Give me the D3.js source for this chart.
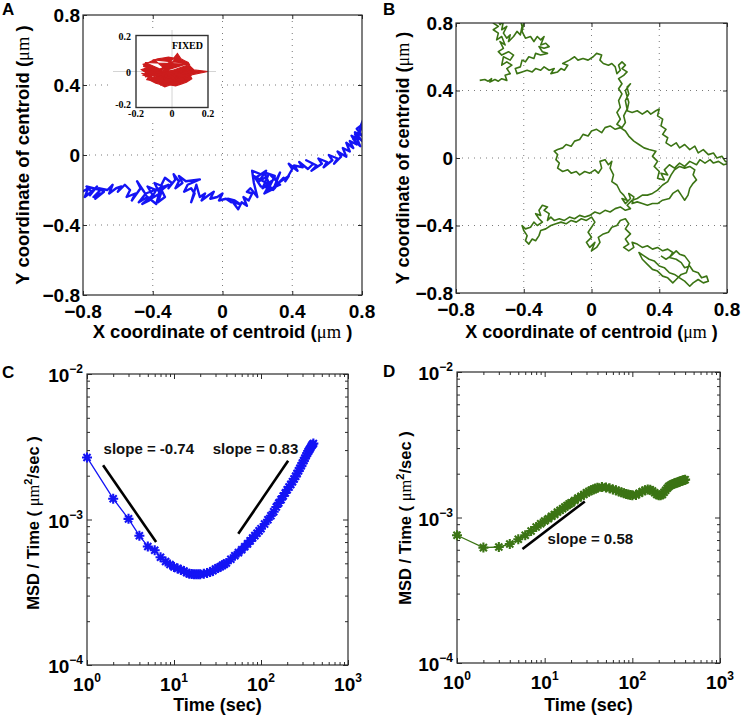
<!DOCTYPE html>
<html><head><meta charset="utf-8">
<script src="https://cdn.jsdelivr.net/npm/d3@7"></script>
<style>body{margin:0;background:#fff}svg{display:block}</style>
</head><body><script>
// ---------------- DATA ----------------
const coordTicks = [-0.8, -0.4, 0, 0.4, 0.8];
const insetTicks = [-0.2, 0, 0.2];
const logXTicks = [1, 10, 100, 1000];
const logXExp = ["0", "1", "2", "3"];
const logYTicks = [1e-4, 1e-3, 1e-2];
const logYExp = ["\u22124", "\u22123", "\u22122"];
const panelLetters = ["A", "B", "C", "D"];

// Panel A trajectory (x, y in µm)
const trajA = [
[-0.82,-0.22],[-0.77,-0.19],[-0.79,-0.24],[-0.74,-0.20],[-0.76,-0.23],[-0.72,-0.18],[-0.75,-0.21],[-0.78,-0.18],[-0.70,-0.20],[-0.74,-0.24],
[-0.70,-0.22],[-0.73,-0.25],[-0.68,-0.21],[-0.71,-0.19],
[-0.66,-0.20],[-0.63,-0.17],[-0.65,-0.22],[-0.61,-0.19],[-0.58,-0.18],[-0.60,-0.21],[-0.56,-0.17],[-0.53,-0.20],
[-0.55,-0.24],[-0.50,-0.22],[-0.52,-0.26],[-0.47,-0.19],[-0.49,-0.15],[-0.45,-0.21],[-0.42,-0.26],[-0.46,-0.28],[-0.40,-0.23],[-0.43,-0.18],
[-0.38,-0.20],[-0.41,-0.25],[-0.36,-0.22],[-0.39,-0.16],[-0.34,-0.18],[-0.37,-0.27],[-0.33,-0.24],[-0.35,-0.20],[-0.31,-0.17],
[-0.44,-0.22],[-0.48,-0.27],[-0.43,-0.24],[-0.38,-0.28],[-0.35,-0.17],
[-0.33,-0.13],[-0.29,-0.16],[-0.31,-0.19],[-0.27,-0.14],[-0.28,-0.11],[-0.25,-0.15],[-0.27,-0.19],[-0.23,-0.16],[-0.25,-0.12],[-0.21,-0.15],
[-0.13,-0.14],[-0.20,-0.17],[-0.22,-0.21],[-0.18,-0.19],
[-0.16,-0.22],[-0.18,-0.27],[-0.15,-0.17],[-0.13,-0.24],[-0.10,-0.22],[-0.12,-0.26],[-0.08,-0.23],[-0.05,-0.21],[-0.07,-0.25],[-0.03,-0.24],
[0.00,-0.22],[-0.02,-0.26],[0.02,-0.25],
[0.05,-0.27],[0.03,-0.25],[0.07,-0.26],[0.10,-0.28],[0.06,-0.27],[0.09,-0.31],[0.11,-0.27],[0.14,-0.29],[0.12,-0.24],[0.15,-0.26],[0.17,-0.22],[0.14,-0.21],[0.16,-0.19],
[0.20,-0.24],[0.18,-0.16],[0.17,-0.09],[0.22,-0.11],[0.19,-0.13],[0.25,-0.09],[0.21,-0.15],[0.26,-0.12],[0.23,-0.19],[0.28,-0.15],[0.24,-0.22],[0.30,-0.19],
[0.22,-0.18],[0.18,-0.12],[0.27,-0.17],[0.24,-0.10],[0.30,-0.12],[0.26,-0.20],[0.33,-0.17],
[0.27,-0.11],[0.31,-0.14],[0.33,-0.10],[0.29,-0.20],[0.35,-0.13],[0.32,-0.16],[0.38,-0.12],[0.36,-0.15],
[0.40,-0.08],[0.38,-0.05],[0.43,-0.09],[0.41,-0.06],[0.46,-0.07],[0.44,-0.04],[0.49,-0.08],[0.52,-0.05],[0.48,-0.03],[0.54,-0.06],[0.51,-0.09],
[0.57,-0.05],[0.55,-0.02],[0.60,-0.04],[0.58,-0.07],
[0.63,-0.03],[0.61,0.00],[0.66,-0.02],[0.64,-0.05],[0.68,-0.01],[0.66,0.02],[0.71,-0.01],[0.69,0.04],[0.73,0.02],[0.71,0.07],[0.75,0.04],
[0.73,0.08],[0.77,0.06],[0.74,0.11],[0.78,0.09],[0.75,0.09],[0.79,0.05],[0.76,0.12],[0.80,0.08],[0.76,0.13],[0.80,0.11],[0.77,0.15],[0.81,0.18],
[0.78,0.12],[0.81,0.21],[0.79,0.16],[0.82,0.14]
];

// Inset ("FIXED") trajectory
const trajFixed = [
[0.11,0.01],[0.20,0.00],[0.10,-0.02],[0.11,-0.04],[0.08,-0.06],[0.05,-0.07],[0.02,-0.08],[-0.01,-0.075],[-0.04,-0.085],[-0.07,-0.07],
[-0.09,-0.065],[-0.12,-0.05],[-0.14,-0.045],[-0.13,-0.03],[-0.16,-0.02],[-0.14,-0.01],[-0.17,0.01],[-0.14,0.02],[-0.16,0.04],[-0.13,0.05],
[-0.11,0.06],[-0.08,0.07],[-0.05,0.075],[-0.02,0.08],[0.01,0.075],[0.03,0.10],[0.05,0.07],[0.07,0.06],[0.09,0.05],[0.10,0.03],[0.12,0.01],
[-0.15,-0.03],[0.09,0.045],[-0.10,0.065],[0.06,-0.065],[-0.16,0.03],[0.11,-0.02],[-0.06,-0.075],[0.02,0.08],[-0.13,-0.04],[0.10,0.04],
[-0.15,0.05],[0.08,-0.05],[-0.17,-0.01]
];

// Panel B trajectory
const trajB = [
[-0.66,0.46],[-0.63,0.465],[-0.61,0.455],[-0.59,0.47],[-0.60,0.45],[-0.57,0.465],[-0.55,0.455],[-0.53,0.47],[-0.50,0.46],[-0.51,0.49],
[-0.48,0.50],[-0.50,0.53],[-0.47,0.55],[-0.50,0.57],[-0.53,0.55],[-0.52,0.60],[-0.48,0.58],[-0.46,0.61],[-0.49,0.63],[-0.53,0.61],
[-0.55,0.63],[-0.52,0.65],[-0.54,0.69],[-0.51,0.67],[-0.53,0.72],[-0.56,0.70],[-0.55,0.74],[-0.58,0.76],[-0.55,0.78],[-0.58,0.80],
[-0.56,0.83],[-0.54,0.79],[-0.52,0.81],[-0.53,0.76],[-0.50,0.78],[-0.52,0.74],[-0.50,0.71],[-0.48,0.73],[-0.49,0.69],[-0.46,0.72],
[-0.44,0.75],[-0.42,0.73],[-0.41,0.78],[-0.42,0.82],[-0.40,0.80],[-0.41,0.75],[-0.39,0.71],[-0.36,0.72],[-0.34,0.69],[-0.32,0.72],
[-0.30,0.70],[-0.28,0.72],[-0.30,0.67],[-0.27,0.68],[-0.25,0.66],[-0.28,0.65],[-0.31,0.66],[-0.29,0.63],[-0.26,0.62],[-0.30,0.61],
[-0.33,0.62],[-0.34,0.59],[-0.37,0.60],[-0.39,0.57],[-0.41,0.58],[-0.42,0.54],[-0.45,0.53],[-0.44,0.50],[-0.41,0.51],[-0.38,0.52],
[-0.35,0.51],[-0.33,0.53],[-0.30,0.52],[-0.28,0.54],[-0.25,0.52],[-0.22,0.53],[-0.24,0.50],[-0.20,0.51],[-0.18,0.53],[-0.16,0.52],
[-0.14,0.55],[-0.17,0.56],[-0.13,0.58],[-0.10,0.60],[-0.08,0.58],[-0.05,0.59],[-0.02,0.58],[0.01,0.60],[0.03,0.62],[0.06,0.61],
[0.05,0.58],[0.07,0.56],[0.10,0.55],[0.12,0.56],[0.14,0.54],[0.15,0.50],[0.17,0.52],[0.16,0.55],[0.18,0.57],[0.20,0.55],
[0.18,0.53],[0.21,0.51],[0.19,0.49],[0.16,0.47],[0.18,0.44],[0.16,0.41],[0.18,0.38],[0.16,0.34],[0.17,0.30],[0.15,0.27],
[0.17,0.23],[0.15,0.20],[0.18,0.18],[0.20,0.21],[0.19,0.25],[0.21,0.29],[0.20,0.34],[0.22,0.38],[0.21,0.42],[0.23,0.44],
[0.20,0.40],[0.22,0.33],[0.21,0.28],
[0.24,0.27],[0.27,0.28],[0.30,0.26],[0.33,0.28],[0.35,0.26],[0.38,0.28],[0.40,0.29],[0.39,0.25],[0.42,0.23],[0.41,0.19],
[0.44,0.17],[0.42,0.14],[0.45,0.12],[0.44,0.09],[0.47,0.07],[0.50,0.09],[0.52,0.06],[0.55,0.08],[0.58,0.05],[0.61,0.07],
[0.63,0.03],[0.66,0.05],[0.69,0.02],[0.72,0.03],[0.74,0.00],[0.77,0.01],[0.79,-0.02],[0.82,-0.03],[0.78,-0.04],[0.75,-0.02],
[0.72,-0.03],[0.70,-0.01],[0.67,-0.03],[0.64,-0.01],[0.62,-0.04],[0.58,-0.02],[0.55,-0.05],[0.52,-0.03],[0.49,-0.06],[0.46,-0.04],
[0.43,-0.07],[0.45,-0.10],[0.41,-0.09],[0.43,-0.13],[0.39,-0.12],[0.40,-0.08],[0.37,-0.05],[0.39,-0.02],[0.36,0.01],[0.38,0.04],
[0.34,0.05],[0.31,0.06],[0.28,0.08],[0.25,0.10],[0.22,0.13],[0.20,0.16],[0.17,0.18],
[0.14,0.17],[0.11,0.19],[0.08,0.18],[0.06,0.15],[0.03,0.17],[0.00,0.16],[-0.02,0.13],[-0.05,0.14],[-0.07,0.11],[-0.10,0.10],
[-0.12,0.07],[-0.15,0.08],[-0.17,0.06],[-0.20,0.05],[-0.22,0.04],[-0.20,0.02],[-0.21,-0.01],[-0.19,-0.03],[-0.20,-0.06],[-0.17,-0.08],
[-0.14,-0.07],[-0.12,-0.09],[-0.09,-0.08],[-0.07,-0.10],[-0.04,-0.08],[-0.01,-0.09],[0.02,-0.07],[0.04,-0.09],[0.06,-0.06],[0.05,-0.02],
[0.08,-0.01],[0.10,-0.04],[0.12,-0.02],[0.11,-0.06],[0.13,-0.10],[0.12,-0.14],[0.15,-0.16],[0.17,-0.20],[0.19,-0.22],[0.21,-0.25],
[0.18,-0.24],[0.20,-0.27],[0.23,-0.24],[0.22,-0.21],[0.25,-0.23],[0.24,-0.27],[0.27,-0.26],
[0.30,-0.27],[0.33,-0.28],[0.36,-0.27],[0.39,-0.27],[0.42,-0.25],[0.46,-0.24],[0.48,-0.21],[0.51,-0.19],[0.53,-0.22],[0.55,-0.25],
[0.57,-0.22],[0.58,-0.18],[0.60,-0.15],[0.62,-0.13],[0.60,-0.10],[0.61,-0.07],[0.58,-0.05],[0.55,-0.06],[0.52,-0.05],[0.49,-0.07],
[0.47,-0.10],[0.45,-0.14],[0.42,-0.16],[0.39,-0.19],[0.36,-0.21],[0.33,-0.22],[0.30,-0.22],[0.27,-0.24],[0.24,-0.25],[0.21,-0.28],
[0.23,-0.30],
[0.20,-0.31],[0.17,-0.29],[0.14,-0.30],[0.11,-0.32],[0.08,-0.31],[0.05,-0.33],[0.02,-0.32],[-0.01,-0.34],[-0.04,-0.35],[-0.07,-0.34],
[-0.10,-0.36],[-0.13,-0.35],[-0.16,-0.37],[-0.19,-0.36],[-0.22,-0.37],[-0.24,-0.35],[-0.26,-0.37],[-0.25,-0.33],[-0.28,-0.31],[-0.26,-0.29],
[-0.29,-0.28],[-0.31,-0.31],[-0.30,-0.34],[-0.33,-0.33],[-0.31,-0.36],[-0.29,-0.38],[-0.32,-0.40],[-0.34,-0.38],[-0.36,-0.41],[-0.39,-0.42],
[-0.41,-0.40],[-0.40,-0.43],[-0.38,-0.46],[-0.39,-0.49],[-0.37,-0.51],[-0.35,-0.48],[-0.33,-0.49],[-0.31,-0.46],[-0.30,-0.43],[-0.27,-0.42],
[-0.24,-0.40],[-0.21,-0.39],[-0.18,-0.38],[-0.15,-0.39],[-0.12,-0.37],[-0.09,-0.38],[-0.06,-0.36],[-0.03,-0.37],[0.00,-0.35],[0.02,-0.38],
[0.00,-0.41],[-0.02,-0.44],[0.00,-0.47],[-0.03,-0.50],[-0.01,-0.53],[0.02,-0.50],[0.00,-0.55],[0.03,-0.53],[0.05,-0.50],[0.04,-0.47],
[0.07,-0.45],[0.10,-0.44],[0.12,-0.41],[0.15,-0.40],[0.17,-0.37],[0.20,-0.36],[0.22,-0.39],[0.20,-0.42],[0.23,-0.45],[0.20,-0.48],
[0.22,-0.51],[0.19,-0.53],[0.22,-0.55],[0.25,-0.53],[0.24,-0.50],[0.27,-0.51],[0.30,-0.53],[0.33,-0.52],[0.36,-0.54],[0.39,-0.53],
[0.42,-0.55],[0.45,-0.54],[0.48,-0.56],[0.46,-0.59],[0.50,-0.60],[0.53,-0.62],[0.55,-0.65],[0.58,-0.64],[0.60,-0.67],[0.63,-0.68],
[0.65,-0.71],[0.68,-0.70],[0.69,-0.73],[0.66,-0.74],[0.63,-0.72],[0.60,-0.74],[0.58,-0.76],[0.55,-0.73],[0.52,-0.71],[0.49,-0.69],
[0.46,-0.68],[0.43,-0.65],[0.40,-0.64],[0.37,-0.61],[0.34,-0.60],[0.31,-0.58],[0.28,-0.56],[0.30,-0.60],[0.33,-0.63],[0.36,-0.66],
[0.39,-0.67],[0.42,-0.70],[0.45,-0.71],[0.48,-0.74],[0.50,-0.72],[0.53,-0.69],[0.56,-0.68],[0.58,-0.62],[0.55,-0.58],[0.52,-0.57],
[0.50,-0.55],[0.47,-0.58],[0.44,-0.60],[0.41,-0.58]
];

// Panel C: MSD/Time vs time lag
const timeC = [1,2,3,4,5,6,7,8,9,10,11,12,13,14,15,16,17,18,19,20,22,24,26,28,30,32,34,36,38,40,45,50,55,60,65,70,75,80,85,90,95,100,
110,120,130,140,150,160,170,180,190,200,210,220,230,240,250,260,270,280,290,300,310,320,330,340,350,360,370,380,390,400];
const msdC = [26.7e-4,13.9e-4,10.1e-4,7.74e-4,6.53e-4,6.14e-4,5.5e-4,5.15e-4,4.9e-4,4.71e-4,4.6e-4,4.52e-4,4.42e-4,4.3e-4,4.24e-4,4.22e-4,4.2e-4,4.2e-4,4.2e-4,4.21e-4,
4.24e-4,4.29e-4,4.35e-4,4.44e-4,4.57e-4,4.65e-4,4.74e-4,4.84e-4,4.93e-4,5.02e-4,5.33e-4,5.64e-4,5.92e-4,6.2e-4,6.5e-4,6.8e-4,7.13e-4,7.46e-4,7.75e-4,8.05e-4,8.35e-4,8.65e-4,
9.3e-4,9.95e-4,10.6e-4,11.3e-4,12.2e-4,13.0e-4,13.7e-4,14.5e-4,15.2e-4,16.0e-4,16.7e-4,17.4e-4,18.2e-4,19.0e-4,19.8e-4,20.7e-4,21.6e-4,22.5e-4,23.4e-4,24.4e-4,
25.4e-4,26.4e-4,27.4e-4,28.4e-4,29.4e-4,30.2e-4,31.0e-4,32.0e-4,32.7e-4,33.3e-4];
const slopeC = [{t:[1.53,6.23], v:[2.36e-3,7.0e-4], label:"slope = -0.74", lt:1.55, lv:2.83e-3},
                {t:[54.8,205], v:[7.98e-4,2.53e-3], label:"slope = 0.83", lt:27.9, lv:2.83e-3}];

// Panel D
const timeD = timeC;
const msdD = [7.55e-4,6.21e-4,6.27e-4,6.57e-4,7.08e-4,7.55e-4,8.07e-4,8.6e-4,9.05e-4,9.46e-4,9.8e-4,10.2e-4,10.5e-4,10.9e-4,11.2e-4,11.5e-4,11.8e-4,12.1e-4,12.4e-4,12.6e-4,
13.1e-4,13.6e-4,14.0e-4,14.4e-4,14.8e-4,15.1e-4,15.4e-4,15.6e-4,15.8e-4,16.0e-4,16.2e-4,16.1e-4,15.9e-4,15.6e-4,15.4e-4,15.1e-4,14.9e-4,14.7e-4,14.5e-4,14.4e-4,14.3e-4,14.2e-4,
14.3e-4,14.7e-4,15.1e-4,15.4e-4,15.6e-4,15.5e-4,15.2e-4,14.8e-4,14.4e-4,14.2e-4,14.2e-4,14.4e-4,14.9e-4,15.4e-4,15.9e-4,16.3e-4,16.6e-4,16.8e-4,17.0e-4,17.1e-4,
17.2e-4,17.3e-4,17.5e-4,17.6e-4,17.7e-4,17.8e-4,17.9e-4,18.0e-4,18.1e-4,18.2e-4];
const slopeD = [{t:[5.58,28.7], v:[6.07e-4,1.29e-3], label:"slope = 0.58", lt:10.8, lv:6.55e-4}];

// ---------------- DRAWING ----------------
const W = 741, H = 718;
const FONT = "'Liberation Sans', Arial, Helvetica, sans-serif";
const AX = "#2b2b2b";
const BLUE = "#1414f5", GREEN = "#3b7414", RED = "#cc1c1c";

const svg = d3.select("body").append("svg").attr("width", W).attr("height", H)
  .style("background", "#fff").attr("font-family", FONT);
svg.append("rect").attr("width", W).attr("height", H).attr("fill", "#fff");

function ticks(g, scale, orient, values, size, tx, ty) {
  const ax = orient === "bottom" ? d3.axisBottom(scale) : orient === "top" ? d3.axisTop(scale)
           : orient === "left" ? d3.axisLeft(scale) : d3.axisRight(scale);
  ax.tickValues(values).tickSize(-size).tickSizeOuter(0).tickFormat("");
  const a = g.append("g").attr("transform", `translate(${tx},${ty})`).call(ax);
  a.select(".domain").remove();
  a.selectAll("text").remove();
  a.selectAll("line").attr("stroke", AX).attr("stroke-width", 1);
}
function frame(g, p) {
  g.append("rect").attr("x", p.x0).attr("y", p.y0).attr("width", p.x1 - p.x0).attr("height", p.y1 - p.y0)
    .attr("fill", "none").attr("stroke", AX).attr("stroke-width", 1.2);
}
const fmt = v => v === 0 ? "0" : (v < 0 ? "\u2212" : "") + Math.abs(v).toFixed(1);

function muLabel(t, before, after) {
  t.append("tspan").text(before);
  t.append("tspan").attr("font-weight", "normal").attr("font-family", "'Liberation Serif', serif").text("\u03bcm");
  t.append("tspan").text(after);
}

function linPanel(p, traj, color, width, name) {
  const g = svg.append("g");
  const x = d3.scaleLinear([-0.8, 0.8], [p.x0, p.x1]);
  const y = d3.scaleLinear([-0.8, 0.8], [p.y1, p.y0]);
  const inner = coordTicks.filter(v => v > -0.8 && v < 0.8);
  const grid = g.append("g").attr("stroke", "#7a7a7a").attr("stroke-width", 1).attr("stroke-dasharray", "1,5");
  inner.forEach(v => {
    grid.append("line").attr("x1", x(v)).attr("x2", x(v)).attr("y1", p.y0).attr("y2", p.y1);
    grid.append("line").attr("y1", y(v)).attr("y2", y(v)).attr("x1", p.x0).attr("x2", p.x1);
  });
  svg.append("clipPath").attr("id", "clip" + name).append("rect")
    .attr("x", p.x0).attr("y", p.y0).attr("width", p.x1 - p.x0).attr("height", p.y1 - p.y0);
  g.append("path").datum(traj).attr("clip-path", `url(#clip${name})`)
    .attr("d", d3.line().x(d => x(d[0])).y(d => y(d[1])))
    .attr("fill", "none").attr("stroke", color).attr("stroke-width", width).attr("stroke-linejoin", "round");
  ticks(g, x, "bottom", coordTicks, 4, 0, p.y1);
  ticks(g, x, "top", coordTicks, 4, 0, p.y0);
  ticks(g, y, "left", coordTicks, 4, p.x0, 0);
  ticks(g, y, "right", coordTicks, 4, p.x1, 0);
  frame(g, p);
  g.selectAll("text.xt").data(coordTicks).join("text").attr("class", "xt")
    .attr("x", d => x(d)).attr("y", p.y1 + 23).attr("text-anchor", "middle")
    .attr("font-size", 19).attr("font-weight", "bold").text(fmt);
  g.selectAll("text.yt").data(coordTicks).join("text").attr("class", "yt")
    .attr("x", p.x0 - 3).attr("y", d => y(d) + 6.5).attr("text-anchor", "end")
    .attr("font-size", 19).attr("font-weight", "bold").text(fmt);
  const xl = g.append("text").attr("x", (p.x0 + p.x1) / 2).attr("y", 338).attr("text-anchor", "middle")
    .attr("font-size", p.lab).attr("font-weight", "bold");
  muLabel(xl, "X coordinate of centroid (", " )");
  const yl = g.append("text").attr("transform", `translate(${p.ylx},${(p.y0 + p.y1) / 2}) rotate(-90)`)
    .attr("text-anchor", "middle").attr("font-size", p.lab).attr("font-weight", "bold");
  muLabel(yl, "Y coordinate of centroid (", " )");
  return {g, x, y};
}

const PA = {x0: 83, x1: 362, y0: 15, y1: 295, ylx: 29, lab: 18.5};
const PB = {x0: 456, x1: 727, y0: 23, y1: 293, ylx: 409, lab: 18};
linPanel(PA, trajA, BLUE, 2.4, "A");
linPanel(PB, trajB, GREEN, 1.6, "B");

// ---- Inset in panel A ----
{
  const ip = {x0: 136, x1: 208, y0: 35.5, y1: 107.5};
  const ix = d3.scaleLinear([-0.2, 0.2], [ip.x0, ip.x1]);
  const iy = d3.scaleLinear([-0.2, 0.2], [ip.y1, ip.y0]);
  const g = svg.append("g");
  g.append("rect").attr("x", 111).attr("y", 29).attr("width", 107).attr("height", 90).attr("fill", "#fff");
  g.append("line").attr("x1", 113).attr("x2", 216).attr("y1", iy(0)).attr("y2", iy(0)).attr("stroke", "#d4d4d4");
  g.append("line").attr("x1", ix(0)).attr("x2", ix(0)).attr("y1", 30).attr("y2", 113).attr("stroke", "#d4d4d4");
  svg.append("clipPath").attr("id", "clipI").append("rect")
    .attr("x", ip.x0).attr("y", ip.y0).attr("width", ip.x1 - ip.x0).attr("height", ip.y1 - ip.y0);
  g.append("path").datum(trajFixed).attr("clip-path", "url(#clipI)")
    .attr("d", d3.line().x(d => ix(d[0])).y(d => iy(d[1])))
    .attr("fill", RED).attr("fill-rule", "nonzero").attr("stroke", RED).attr("stroke-width", 1.2)
    .attr("stroke-linejoin", "miter");
  g.append("rect").attr("x", ip.x0).attr("y", ip.y0).attr("width", ip.x1 - ip.x0).attr("height", ip.y1 - ip.y0)
    .attr("fill", "none").attr("stroke", "#333").attr("stroke-width", 1.4);
  const ifmt = v => v === 0 ? "0" : (v < 0 ? "-" : "") + Math.abs(v).toFixed(1);
  const sf = "'Liberation Serif', 'DejaVu Serif', serif";
  g.selectAll("text.ix").data(insetTicks).join("text").attr("class", "ix")
    .attr("x", d => ix(d)).attr("y", 117).attr("text-anchor", "middle")
    .attr("font-family", sf).attr("font-weight", "bold").attr("font-size", 10).text(ifmt);
  g.selectAll("text.iy").data(insetTicks).join("text").attr("class", "iy")
    .attr("x", 131).attr("y", d => Math.min(iy(d) + 4, 108)).attr("text-anchor", "end")
    .attr("font-family", sf).attr("font-weight", "bold").attr("font-size", 10).text(ifmt);
  g.append("text").attr("x", 203).attr("y", 49).attr("text-anchor", "end")
    .attr("font-family", sf).attr("font-weight", "bold").attr("font-size", 10).text("FIXED");
}

// ---- Log panels ----
function star(r) {
  const a = r * 0.707;
  return `M${-r},0L${r},0M0,${-r}L0,${r}M${-a},${-a}L${a},${a}M${-a},${a}L${a},${-a}`;
}
function logPanel(p, times, vals, color, slopes) {
  const g = svg.append("g");
  const x = d3.scaleLog([1, 1000], [p.x0, p.x1]);
  const y = d3.scaleLog([1e-4, 1e-2], [p.y1, p.y0]);
  const minorX = [], minorY = [];
  [1, 10, 100].forEach(d => { for (let k = 2; k <= 9; k++) minorX.push(d * k); });
  [1e-4, 1e-3].forEach(d => { for (let k = 2; k <= 9; k++) minorY.push(d * k); });
  ticks(g, x, "bottom", logXTicks, 5, 0, p.y1); ticks(g, x, "bottom", minorX, 3, 0, p.y1);
  ticks(g, x, "top", logXTicks, 5, 0, p.y0); ticks(g, x, "top", minorX, 3, 0, p.y0);
  ticks(g, y, "left", logYTicks, 5, p.x0, 0); ticks(g, y, "left", minorY, 3, p.x0, 0);
  ticks(g, y, "right", logYTicks, 5, p.x1, 0); ticks(g, y, "right", minorY, 3, p.x1, 0);
  frame(g, p);
  const pts = times.map((t, i) => ({t, v: vals[i]}));
  g.append("path").datum(pts).attr("d", d3.line().x(d => x(d.t)).y(d => y(d.v)))
    .attr("fill", "none").attr("stroke", color).attr("stroke-width", 1.3);
  g.selectAll("path.mk").data(pts).join("path").attr("class", "mk")
    .attr("transform", d => `translate(${x(d.t)},${y(d.v)})`).attr("d", star(5))
    .attr("fill", "none").attr("stroke", color).attr("stroke-width", 2.1);
  slopes.forEach(s => {
    g.append("line").attr("x1", x(s.t[0])).attr("y1", y(s.v[0])).attr("x2", x(s.t[1])).attr("y2", y(s.v[1]))
      .attr("stroke", "#000").attr("stroke-width", 2.6);
    g.append("text").attr("x", x(s.lt)).attr("y", y(s.lv)).attr("font-size", 15).attr("font-weight", "bold")
      .attr("fill", "#111").text(s.label);
  });
  logXTicks.forEach((v, i) => {
    const t = g.append("text").attr("x", x(v)).attr("y", p.y1 + 26).attr("text-anchor", "middle").attr("font-weight", "bold");
    t.append("tspan").attr("font-size", 19).text("10");
    t.append("tspan").attr("font-size", 12).attr("dy", -9).text(logXExp[i]);
  });
  logYTicks.forEach((v, i) => {
    const t = g.append("text").attr("x", p.x0 - 4).attr("y", y(v) + 8).attr("text-anchor", "end").attr("font-weight", "bold");
    t.append("tspan").attr("font-size", 19).text("10");
    t.append("tspan").attr("font-size", 12).attr("dy", -9).text(logYExp[i]);
  });
  g.append("text").attr("x", (p.x0 + p.x1) / 2).attr("y", 711).attr("text-anchor", "middle")
    .attr("font-size", 18).attr("font-weight", "bold").text("Time (sec)");
  const yl = g.append("text").attr("transform", `translate(${p.ylx},${p.ylc}) rotate(-90)`)
    .attr("text-anchor", "middle").attr("font-size", 16.5).attr("font-weight", "bold");
  yl.append("tspan").text("MSD / Time ( ");
  yl.append("tspan").attr("font-weight", "normal").attr("font-family", "'Liberation Serif', serif").text("\u03bcm");
  yl.append("tspan").attr("font-size", 11).attr("dy", -7).text("2");
  yl.append("tspan").attr("dy", 7).text("/sec )");
}
const PC = {x0: 87, x1: 348, y0: 374, y1: 665, ylx: 39, ylc: 523};
const PD = {x0: 457, x1: 720, y0: 372, y1: 663, ylx: 411, ylc: 518};
logPanel(PC, timeC, msdC, BLUE, slopeC);
logPanel(PD, timeD, msdD, GREEN, slopeD);

// Panel letters
const letterPos = [[2, 15], [383, 15], [2, 378], [383, 377]];
svg.selectAll("text.letter").data(panelLetters).join("text").attr("class", "letter")
  .attr("x", (d, i) => letterPos[i][0]).attr("y", (d, i) => letterPos[i][1])
  .attr("font-size", 17).attr("font-weight", "bold").text(d => d);
</script></body></html>
